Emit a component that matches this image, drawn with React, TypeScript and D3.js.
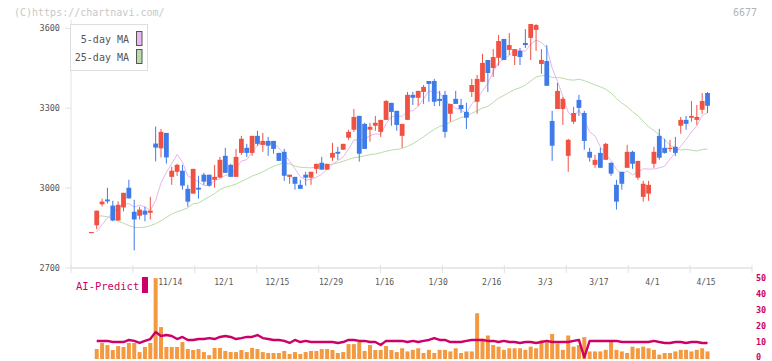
import React from "react";
import * as d3 from "d3";

// ---- data (index 0 = first session on the chart) ----
const opens = [2835,2860,2939,2957,2934,2878,2927,3001,2911,2896,2915,2907,3167,3149,3207,3042,3061,3065,2997,2979,3001,3050,3050,3031,3039,3121,3087,3042,3132,3151,3132,3196,3162,3177,3177,3132,3136,3042,3042,3012,3050,3039,3072,3095,3069,3114,3136,3144,3189,3219,3271,3241,3219,3234,3211,3256,3320,3290,3196,3256,3350,3339,3361,3402,3402,3335,3350,3279,3335,3312,3286,3361,3324,3399,3481,3451,3489,3560,3519,3496,3515,3545,3564,3594,3466,3477,3252,3297,3297,3121,3249,3331,3282,3136,3087,3132,3106,3095,3012,3061,3076,3136,3039,2967,2979,3091,3196,3151,3147,3155,3234,3256,3264,3256,3294,3357];
const highs = [2835,2915,2960,3001,2952,2950,2982,3031,2956,2930,2930,2967,3231,3222,3207,3080,3091,3087,3012,3072,3046,3057,3050,3087,3117,3151,3091,3147,3196,3166,3196,3215,3207,3192,3177,3132,3147,3050,3042,3031,3061,3061,3091,3117,3091,3170,3155,3166,3219,3297,3271,3245,3245,3271,3256,3331,3320,3290,3241,3361,3361,3365,3387,3402,3410,3365,3365,3316,3365,3335,3320,3410,3425,3504,3481,3522,3575,3560,3582,3522,3526,3597,3616,3616,3522,3537,3290,3395,3342,3185,3305,3350,3290,3151,3125,3151,3170,3095,3031,3061,3162,3140,3102,3027,3027,3155,3222,3185,3181,3192,3267,3271,3327,3312,3357,3361];
const lows = [2835,2845,2931,2942,2875,2878,2912,2961,2766,2882,2875,2882,3100,3115,3092,3012,3046,2994,2930,2979,2960,3012,3005,3001,3039,3057,3042,3042,3125,3117,3121,3159,3136,3121,3129,3102,3027,3016,2994,2997,3009,3012,3054,3069,3069,3102,3106,3144,3181,3211,3099,3147,3174,3215,3192,3256,3234,3215,3151,3256,3312,3308,3316,3324,3308,3308,3189,3249,3316,3282,3222,3342,3279,3399,3361,3417,3459,3481,3500,3462,3462,3526,3481,3515,3429,3384,3102,3297,3237,3061,3241,3271,3144,3099,3076,3076,3106,3046,2919,2994,3076,3072,3031,2949,2952,3076,3106,3129,3136,3121,3204,3219,3249,3237,3279,3282];
const closes = [2835,2915,2949,2950,2878,2937,2982,2961,2882,2919,2900,2915,3152,3211,3115,3065,3087,3009,2949,3072,2994,3024,3009,3042,3106,3057,3042,3117,3185,3132,3196,3166,3177,3159,3147,3102,3046,3050,3016,2997,3039,3061,3091,3069,3091,3132,3129,3166,3211,3267,3129,3147,3230,3245,3256,3327,3286,3237,3241,3350,3339,3365,3380,3391,3324,3327,3211,3316,3316,3297,3264,3387,3410,3470,3432,3492,3552,3481,3537,3522,3492,3537,3616,3612,3481,3384,3159,3365,3335,3181,3282,3301,3177,3114,3106,3076,3166,3054,2949,3016,3136,3091,3102,3016,3012,3136,3114,3132,3151,3132,3256,3241,3271,3267,3327,3309];

const ma5Lead = [null, 2835, 2862, 2888];
const ma25Lead = [null,2895,2895,2892,2885,2876,2868,2859,2852,2852,2853,2859,2866,2877,2890,2902,2911,2917,2926,2941,2944,2956,2967,2979];

// lower panel (index 0 has no value)
const volume = [null,5.5,9.3,8.0,4.9,7.4,6.8,9.3,9.3,3.6,6.8,9.3,50,19.3,6.8,6.8,6.8,9.9,5.5,4.9,5.5,3.6,1.7,6.2,6.2,4.3,3.6,3.6,4.9,3.6,6.2,5.5,3.6,3.0,3.0,3.0,4.3,2.4,3.6,2.4,3.6,4.3,4.3,5.5,5.5,4.9,3.0,3.6,8.6,8.6,9.9,4.3,8.0,4.9,4.9,7.4,4.9,3.6,6,4,5,6,3,5,3,5,5,4,6,3,4,4,28,12,14,8,7,5,6,6,6,5,7,6,11,10,15,9,5,14,7,8,13,4,4,4,5,11,5,4,3,7,6,7,6,5,2,3,3,4,5,5,4,5,6,4];
const aiPredict = [null,10.6,10.6,10.6,9.9,9.9,9.9,11.2,10.6,9.3,10.6,11.8,16.2,13.7,14.3,13.7,11.8,13.1,11.2,11.2,11.8,11.8,12.4,11.8,13.1,13.7,13.1,11.8,12.4,13.1,13.1,14.3,12.4,11.8,11.2,11.2,10.6,9.3,11.2,9.9,10.6,9.9,9.9,9.9,9.9,9.9,9.3,9.9,11.2,11.2,10.6,10.6,9.9,9.9,8.0,10.6,10.6,10.6,10.6,9.9,10.6,9.9,10.6,11.2,12.4,11.2,11.2,9.9,9.9,9.9,10.6,11.2,11.2,11.2,10.6,10.6,9.9,10.6,9.9,9.9,9.3,9.9,9.9,9.3,9.9,10.6,9.9,9.9,9.9,9.9,10.6,11.2,0.3,10.6,10.6,10.6,10.6,10.6,10.6,9.9,9.9,9.9,9.9,9.9,9.9,10.6,9.9,9.3,9.3,9.9,9.9,9.3,9.9,9.9,9.3,9.3];

const xLabels = ["11/14","12/1","12/15","12/29","1/16","1/30","2/16","3/3","3/17","4/1","4/15"];
const xLabelIndex = [15,25,35,45,55,65,75,85,95,105,115];
const yTicks = [2700,3000,3300,3600];
const subTicks = [0,10,20,30,40,50];
const legendItems = ["5-day MA","25-day MA"];

const N = closes.length;
const RED = "#ef5242";
const BLUE = "#3e7be9";
const MAGENTA = "#cc0066";
const MONO = "'DejaVu Sans Mono', 'Liberation Mono', monospace";

function movingAvg(period: number, lead: (number | null)[]) {
  return closes.map((_, i) =>
    i < period - 1 ? lead[i] : d3.mean(closes.slice(i - period + 1, i + 1)) as number
  );
}

export default function App() {
  const x = d3.scaleLinear().domain([-3.8, N - 1 + 8.3]).range([71, 752]);
  const y = d3.scaleLinear().domain([2700, 3600]).range([267.9, 28.3]);
  const ys = d3.scaleLinear().domain([0, 50]).range([357.8, 278.2]);

  const ma5 = movingAvg(5, ma5Lead);
  const ma25 = movingAvg(25, ma25Lead);
  const lineGen = d3
    .line<number | null>()
    .defined((d) => d != null)
    .x((_, i) => x(i))
    .y((d) => y(d as number));
  const aiLine = d3
    .line<number | null>()
    .defined((d) => d != null)
    .x((_, i) => x(i))
    .y((d) => ys(d as number));

  const axisTicks = d3.range(12).map((k) => 71 + (k * (752 - 71)) / 11);

  return (
    <svg
      width={772}
      height={361}
      style={{ position: "absolute", left: 0, top: 0, background: "#fff" }}
      fontFamily={MONO}
    >
      <text x={14} y={16} fontSize={10} fill="#c8c8c8">(C)https://chartnavi.com/</text>
      <text x={757} y={16} fontSize={10} fill="#b4b4b4" textAnchor="end">6677</text>

      {/* axes */}
      <line x1={71} x2={71} y1={20} y2={268} stroke="#e2e2e2" strokeWidth={1} />
      <line x1={71} x2={752} y1={267.9} y2={267.9} stroke="#e2e2e2" strokeWidth={1.5} />
      {axisTicks.map((t, k) => (
        <line key={k} x1={t} x2={t} y1={265} y2={273} stroke="#e2e2e2" strokeWidth={1} />
      ))}
      {yTicks.map((v) => (
        <g key={v}>
          <line x1={65} x2={71} y1={y(v)} y2={y(v)} stroke="#e2e2e2" />
          <text x={60} y={y(v) + 3} fontSize={8.5} fill="#555" textAnchor="end">{v}</text>
        </g>
      ))}
      {xLabels.map((l, k) => (
        <text key={l} x={x(xLabelIndex[k]) - 1.5} y={285} fontSize={8} fill="#555" textAnchor="middle">{l}</text>
      ))}

      {/* moving averages */}
      <path d={lineGen(ma25) || ""} fill="none" stroke="#b8dcaa" strokeWidth={1} />
      <path d={lineGen(ma5) || ""} fill="none" stroke="#e8b6ee" strokeWidth={1} />

      {/* candles */}
      {closes.map((c, i) => {
        const o = opens[i];
        const col = c >= o ? RED : BLUE;
        const cx = x(i);
        const top = y(Math.max(o, c));
        const h = Math.max(1.2, Math.abs(y(o) - y(c)));
        return (
          <g key={i}>
            <line x1={cx} x2={cx} y1={y(highs[i])} y2={y(lows[i])} stroke={col} strokeWidth={1} />
            <rect x={cx - 2.4} y={top} width={4.8} height={h} fill={col} />
          </g>
        );
      })}

      {/* legend */}
      <rect x={70.5} y={24.5} width={77} height={46} fill="#fff" stroke="#dedede" />
      {legendItems.map((l, k) => (
        <g key={l}>
          <text x={129} y={42.5 + k * 18} fontSize={10} fill="#555" textAnchor="end">{l}</text>
          <rect x={136.5} y={31.5 + k * 18} width={5.5} height={14} fill={k === 0 ? "#e8b8ee" : "#b9dcaa"} stroke="#555" />
        </g>
      ))}

      {/* lower panel */}
      <text x={76} y={290} fontSize={10.5} fill={MAGENTA}>AI-Predict</text>
      <rect x={142} y={277} width={6} height={16} fill={MAGENTA} />
      {volume.map((v, i) =>
        v == null ? null : (
          <rect key={i} x={x(i) - 2} y={ys(v)} width={4} height={359 - ys(v)} fill="#f39a40" />
        )
      )}
      <path d={aiLine(aiPredict) || ""} fill="none" stroke={MAGENTA} strokeWidth={2.4} strokeLinejoin="round" />
      {subTicks.map((t) => (
        <text key={t} x={756} y={Math.min(ys(t) + 3, 359.5)} fontSize={8.5} fill={MAGENTA} fontWeight="bold">{t}</text>
      ))}
    </svg>
  );
}
